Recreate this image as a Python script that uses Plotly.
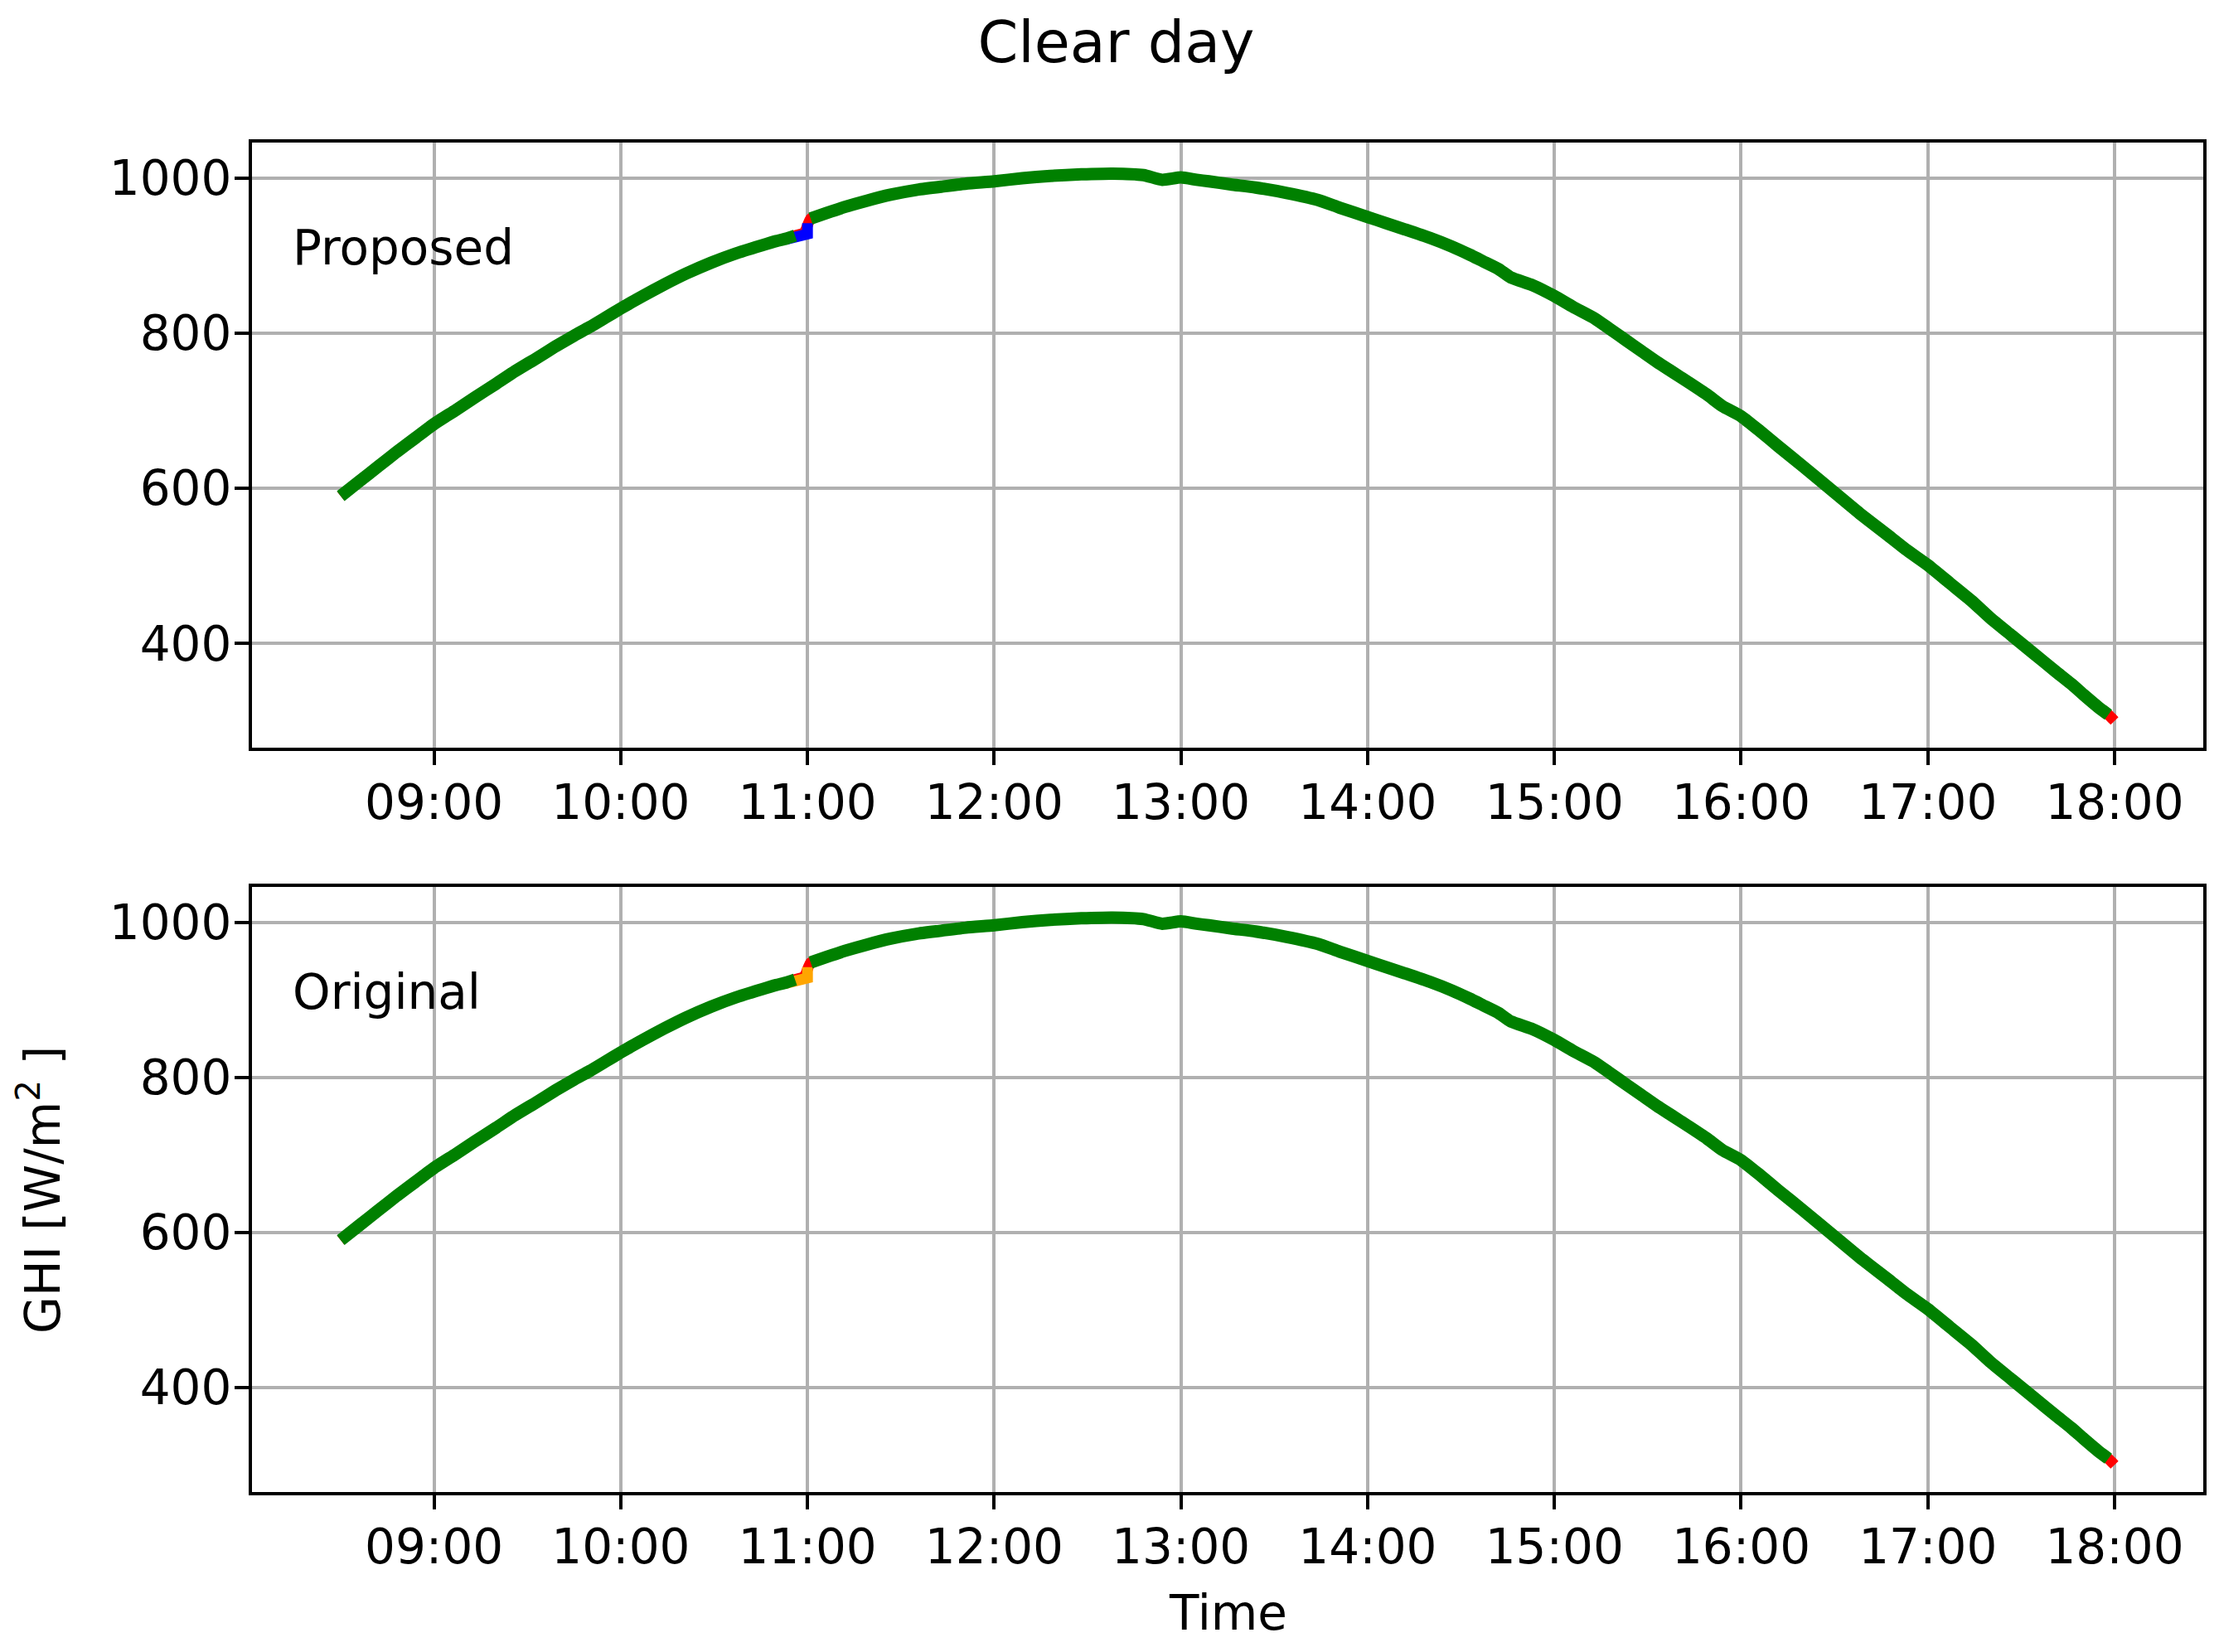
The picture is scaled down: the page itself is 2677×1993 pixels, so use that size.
"""Clear day GHI: proposed vs original gap filling."""

import plotly.graph_objects as go
from plotly.subplots import make_subplots

DAY = "2021-06-01 "

time_labels = [
    "08:30", "08:36", "08:42", "08:48", "08:54", "09:00", "09:07", "09:13", "09:20", "09:26",
    "09:33", "09:39", "09:45", "09:50", "09:55", "10:00", "10:07", "10:14", "10:21", "10:29",
    "10:37", "10:45", "10:50", "10:53", "10:56", "10:59", "11:01", "11:06", "11:12", "11:19",
    "11:27", "11:35", "11:43", "11:51", "12:00", "12:09", "12:18", "12:28", "12:38", "12:48",
    "12:54", "13:00", "13:05", "13:09", "13:16", "13:24", "13:34", "13:44", "13:51", "14:00",
    "14:06", "14:12", "14:20", "14:27", "14:33", "14:37", "14:42", "14:46", "14:53", "15:00",
    "15:06", "15:13", "15:18", "15:23", "15:28", "15:33", "15:38", "15:43", "15:49", "15:54",
    "16:00", "16:06", "16:12", "16:20", "16:29", "16:38", "16:47", "16:53", "17:00", "17:07",
    "17:14", "17:20", "17:27", "17:34", "17:41", "17:46", "17:50", "17:55", "17:58", "18:00",
]
ghi_measured = [
    590, 609, 628, 647, 665, 683, 701, 717, 735, 751,
    768, 783, 797, 808, 820, 832, 848, 863, 877, 891,
    903, 913, 919, 922, 926, 930, 948, 955, 963, 971,
    979, 985, 989, 993, 996, 1000, 1003, 1005, 1006, 1004,
    998, 1001, 998, 996, 992, 988, 981, 972, 962, 950,
    942, 934, 923, 912, 901, 893, 883, 872, 862, 848,
    834, 819, 805, 791, 777, 763, 750, 737, 721, 706,
    693, 674, 654, 628, 598, 568, 540, 521, 501, 478,
    455, 433, 410, 387, 364, 348, 334, 317, 308, 300,
]

# filled gap just before 11:00
gap_times = ["10:53", "10:56", "10:59", "11:00", "11:00"]
gap_proposed = [921, 925, 929, 928, 942]
gap_original = [921, 925, 929, 928, 942]

# green reconstruction leaves out the gap and the final sample
green_skip = {"10:59", "18:00"}

x_all = [DAY + t for t in time_labels]
x_gap = [DAY + t for t in gap_times]
x_green, y_green = [], []
for t, v in zip(time_labels, ghi_measured):
    if t in green_skip:
        if t == "10:59":
            x_green.append(None)
            y_green.append(None)
        continue
    x_green.append(DAY + t)
    y_green.append(v)

fig = make_subplots(rows=2, cols=1, vertical_spacing=0.1026)

panels = [(1, gap_proposed, "#0000ff", "Proposed"), (2, gap_original, "#ffa500", "Original")]
for row, gap_vals, gap_color, label in panels:
    fig.add_trace(
        go.Scatter(x=x_all, y=ghi_measured, mode="lines",
                   line=dict(color="#ff0000", width=13, shape="spline", smoothing=0.5),
                   showlegend=False),
        row=row, col=1,
    )
    fig.add_trace(
        go.Scatter(x=x_gap, y=gap_vals, mode="lines",
                   line=dict(color=gap_color, width=13), showlegend=False),
        row=row, col=1,
    )
    fig.add_trace(
        go.Scatter(x=x_green, y=y_green, mode="lines", connectgaps=False,
                   line=dict(color="#008000", width=15, shape="spline", smoothing=0.5),
                   showlegend=False),
        row=row, col=1,
    )
    fig.add_annotation(
        text=label, xref="x domain" if row == 1 else "x2 domain",
        yref="y domain" if row == 1 else "y2 domain",
        x=0.02, y=0.826, xanchor="left", yanchor="middle", showarrow=False,
        font=dict(size=58, color="black"),
    )

fig.update_xaxes(
    range=[DAY + "08:01:30", DAY + "18:28:30"],
    tickformat="%H:%M", dtick=3600000, tick0=DAY + "09:00",
    showline=True, linecolor="black", linewidth=4, mirror=True,
    ticks="outside", ticklen=17, tickwidth=4, tickcolor="black",
    showgrid=True, gridcolor="#b0b0b0", gridwidth=3.5, zeroline=False,
    tickfont=dict(size=58, color="black"), ticklabelstandoff=-5,
)
fig.update_yaxes(
    range=[265, 1046], tickvals=[400, 600, 800, 1000],
    showline=True, linecolor="black", linewidth=4, mirror=True,
    ticks="outside", ticklen=17, tickwidth=4, tickcolor="black",
    showgrid=True, gridcolor="#b0b0b0", gridwidth=3.5, zeroline=False,
    tickfont=dict(size=58, color="black"), ticklabelstandoff=-8,
)

fig.add_annotation(
    text="GHI [W/m<sup>2</sup> ]", xref="paper", yref="paper",
    x=-0.1088, y=0.2242, textangle=-90, showarrow=False,
    xanchor="center", yanchor="middle", font=dict(size=58, color="black"),
)
fig.add_annotation(
    text="Time", xref="paper", yref="paper", x=0.5, y=-0.0897,
    showarrow=False, xanchor="center", yanchor="middle",
    font=dict(size=58, color="black"),
)

fig.update_layout(
    width=2677, height=1993,
    title=dict(text="Clear day", x=0.5, xanchor="center", y=0.9785, yanchor="middle",
               font=dict(size=70, color="black")),
    font=dict(family="DejaVu Sans", color="black"),
    paper_bgcolor="white", plot_bgcolor="white",
    margin=dict(l=296, r=27, t=164, b=201),
)

fig.write_html("out.html")
